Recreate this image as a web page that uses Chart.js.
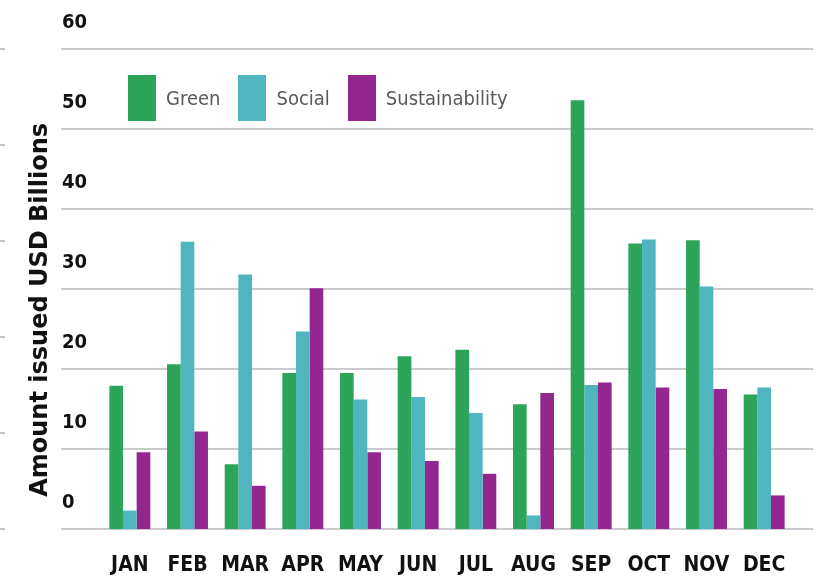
<!DOCTYPE html>
<html>
<head>
<meta charset="utf-8">
<script src="https://cdn.jsdelivr.net/npm/chart.js"></script>
<style>
html,body{margin:0;padding:0;background:#fff;}
#wrap{position:relative;width:818px;height:582px;}
#legend{position:absolute;left:128px;top:75px;display:flex;}
#legend .item{display:flex;align-items:center;margin-right:18px;font:20px 'Liberation Sans Narrow','DejaVu Sans Condensed',sans-serif;color:#58595b;}
#legend .item i{display:inline-block;width:28px;height:46px;margin-right:10px;}
</style>
</head>
<body>
<div id="wrap">
  <canvas id="issuanceChart"></canvas>
  <div id="legend"></div>
</div>
<script>
// ======================
// DATA (USD billions)
// ======================
const months = ["JAN","FEB","MAR","APR","MAY","JUN","JUL","AUG","SEP","OCT","NOV","DEC"];
const green = [17.9, 20.6, 8.1, 19.5, 19.5, 21.6, 22.4, 15.6, 53.6, 35.7, 36.1, 16.8];
const social = [2.3, 35.9, 31.8, 24.7, 16.2, 16.5, 14.5, 1.7, 18.0, 36.2, 30.3, 17.7];
const sustainability = [9.6, 12.2, 5.4, 30.1, 9.6, 8.5, 6.9, 17.0, 18.3, 17.7, 17.5, 4.2];
const yTicks = [0, 10, 20, 30, 40, 50, 60];
const sideTicks = [0, 12, 24, 36, 48, 60];

const narrow = "'Liberation Sans Narrow','DejaVu Sans Condensed',sans-serif";

// gridlines run a bit past the plot on both sides,
// plus the little grey dashes on the far left edge
const gridLines = {
  id: "gridLines",
  beforeDatasetsDraw(chart){
    const {ctx, chartArea, scales} = chart;
    ctx.save();
    ctx.strokeStyle = "#c9c9ce";
    ctx.lineWidth = 2;
    yTicks.forEach(v=>{
      const y = Math.round(scales.y.getPixelForValue(v));
      ctx.beginPath();
      ctx.moveTo(chartArea.left - 40, y);
      ctx.lineTo(chartArea.right + 20, y);
      ctx.stroke();
    });
    ctx.strokeStyle = "#c4c4c4";
    sideTicks.forEach(v=>{
      const y = Math.round(scales.yTitle.getPixelForValue(v));
      ctx.beginPath();
      ctx.moveTo(0, y);
      ctx.lineTo(5, y);
      ctx.stroke();
    });
    ctx.restore();
  }
};

const chart = new Chart(document.getElementById("issuanceChart"),{
type:"bar",
data:{
labels:months,
datasets:[
{label:"Green",data:green,backgroundColor:"#2ca55a"},
{label:"Social",data:social,backgroundColor:"#4fb5bf"},
{label:"Sustainability",data:sustainability,backgroundColor:"#93278f"}
]
},
options:{
responsive:true,
maintainAspectRatio:false,
animation:false,
layout:{padding:{top:49,right:25,bottom:0,left:0}},
datasets:{bar:{categoryPercentage:0.71,barPercentage:1,borderWidth:0}},
plugins:{legend:{display:false},tooltip:{enabled:false}},
scales:{
x:{
grid:{display:false,drawTicks:false},
border:{display:false},
ticks:{padding:24,color:"#111",font:{family:narrow,size:21,weight:"bold"}},
afterFit(scale){ scale.height = 53; }
},
y:{
position:"left",
weight:0,
min:0,max:60,
grid:{display:false,drawTicks:false},
border:{display:false},
ticks:{stepSize:10,padding:0,crossAlign:"far",labelOffset:-26,color:"#111",
font:{family:narrow,size:20,weight:"bold"}},
afterFit(scale){ scale.width = 39; }
},
yTitle:{
position:"left",
weight:1,
min:0,max:60,
grid:{display:false,drawTicks:false},
border:{display:false},
ticks:{display:false,stepSize:12},
title:{display:true,text:"Amount issued USD Billions     ",color:"#111",
font:{family:"'DejaVu Sans',sans-serif",size:24,weight:"bold"},padding:{top:26,bottom:0}},
afterFit(scale){ scale.width = 62; }
}
}
},
plugins:[gridLines]
});

// ======================
// HTML LEGEND
// ======================
const legendBox = document.getElementById("legend");
chart.data.datasets.forEach(ds=>{
  const item = document.createElement("span");
  item.className = "item";
  item.innerHTML = `<i style="background:${ds.backgroundColor}"></i>${ds.label}`;
  legendBox.appendChild(item);
});
</script>
</body>
</html>
